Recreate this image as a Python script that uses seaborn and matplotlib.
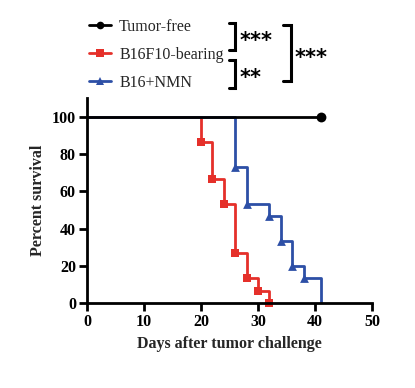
import matplotlib
matplotlib.use("Agg")
import matplotlib.pyplot as plt
from matplotlib.lines import Line2D
import seaborn as sns
import pandas as pd

# ---- data ----
groups = ["Tumor-free", "B16F10-bearing", "B16+NMN"]
days_free = [0, 41]
surv_free = [100, 100]
days_b16 = [0, 20, 22, 24, 26, 28, 30, 32]
surv_b16 = [100, 86.7, 66.7, 53.3, 26.7, 13.3, 6.7, 0]
days_nmn = [0, 26, 28, 32, 34, 36, 38, 41]
surv_nmn = [100, 73.3, 53.3, 46.7, 33.3, 20, 13.3, 0]
x_ticks = [0, 10, 20, 30, 40, 50]
y_ticks = [0, 20, 40, 60, 80, 100]
sig_pairs = ["***", "**", "***"]

colors = {"Tumor-free": "#000000", "B16F10-bearing": "#E5302A", "B16+NMN": "#2D4FA6"}
markers = {"Tumor-free": "o", "B16F10-bearing": "s", "B16+NMN": "^"}

sns.set_theme(style="ticks")
plt.rcParams["font.family"] = ["Liberation Serif", "DejaVu Serif"]

W, H = 415, 388
fig = plt.figure(figsize=(W / 100, H / 100), dpi=100)

def fx(px):
    return px / W

def fy(py):
    return 1 - py / H

ax = fig.add_axes([fx(87), fy(303), fx(372) - fx(87), fy(98.4) - fy(303)])

df_line = pd.concat([
    pd.DataFrame({"day": days_free, "surv": surv_free, "group": groups[0]}),
    pd.DataFrame({"day": days_b16, "surv": surv_b16, "group": groups[1]}),
    pd.DataFrame({"day": days_nmn, "surv": surv_nmn, "group": groups[2]}),
])

# step lines (draw the coloured groups first, black on top)
for g in [groups[1], groups[2], groups[0]]:
    sub = df_line[df_line.group == g]
    sns.lineplot(data=sub, x="day", y="surv", ax=ax, color=colors[g],
                 drawstyle="steps-post", lw=2.0, estimator=None,
                 legend=False, zorder=3 if g == groups[0] else 2)

# event markers
mk_free = pd.DataFrame({"day": days_free[-1:], "surv": surv_free[-1:]})
mk_b16 = pd.DataFrame({"day": days_b16[1:], "surv": surv_b16[1:]})
mk_nmn = pd.DataFrame({"day": days_nmn[1:-1], "surv": surv_nmn[1:-1]})
for g, d, s in [(groups[0], mk_free, 50), (groups[1], mk_b16, 38), (groups[2], mk_nmn, 40)]:
    sns.scatterplot(data=d, x="day", y="surv", ax=ax, color=colors[g],
                    marker=markers[g], s=s, linewidth=0, zorder=2, legend=False,
                    clip_on=False)

ax.set_xlim(0, 50)
ax.set_ylim(0, 110)
ax.set_xticks(x_ticks)
ax.set_yticks(y_ticks)
ax.set_xticklabels([str(t) for t in x_ticks], fontweight="bold", fontsize=11.5)
ax.set_yticklabels([str(t) for t in y_ticks], fontweight="bold", fontsize=11.5)
ax.set_xlabel("Days after tumor challenge", fontweight="bold", fontsize=11.5, labelpad=4)
ax.set_ylabel("Percent survival", fontweight="bold", fontsize=11.5, labelpad=4)
for side in ["top", "right"]:
    ax.spines[side].set_visible(False)
for side in ["left", "bottom"]:
    ax.spines[side].set_linewidth(2.0)
    ax.spines[side].set_color("black")
    ax.spines[side].set_zorder(5)
ax.tick_params(axis="both", width=2.0, length=6, color="black", pad=2, labelcolor="black")
ax.set_facecolor("white")

# legend
handles = [Line2D([], [], color=colors[g], marker=markers[g], lw=2.0, markersize=5.5,
                  markeredgewidth=0) for g in groups]
fig.legend(handles, groups, loc="upper left",
           bbox_to_anchor=(fx(84), fy(14)), frameon=False, fontsize=11.5,
           handlelength=1.4, handletextpad=0.5, labelspacing=0.75,
           borderaxespad=0, borderpad=0.3)

# significance brackets
def bracket(x0, x1, y0, y1):
    fig.add_artist(Line2D([fx(x0), fx(x1), fx(x1), fx(x0)],
                          [fy(y0), fy(y0), fy(y1), fy(y1)],
                          color="black", lw=2.2, solid_joinstyle="miter"))

bracket(229, 235, 23, 50)
bracket(229, 235, 60, 88)
bracket(283, 291, 25, 81)
star_kw = dict(fontsize=15, fontweight="bold", family="DejaVu Sans",
               ha="left", va="center", color="black")
fig.text(fx(240), fy(41), sig_pairs[0], **star_kw)
fig.text(fx(240), fy(78), sig_pairs[1], **star_kw)
fig.text(fx(295), fy(58), sig_pairs[2], **star_kw)

fig.savefig("out.png", dpi=100, facecolor="white")
